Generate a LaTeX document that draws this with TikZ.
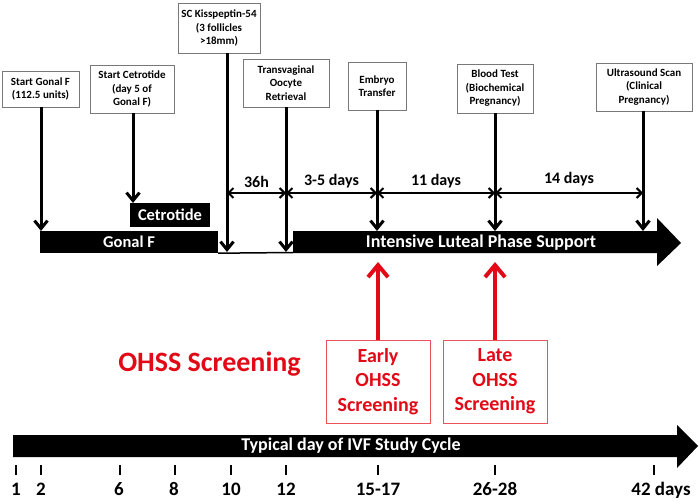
\documentclass[tikz,border=0pt]{standalone}
\usepackage{fontspec}
\setmainfont{Carlito}
\usetikzlibrary{arrows.meta,positioning}
\definecolor{ohssred}{RGB}{226,10,22}
\definecolor{boxgray}{RGB}{120,120,120}
\begin{document}
\begin{tikzpicture}[x=1pt,y=-1pt]

\tikzset{evtbox/.style={draw=boxgray, line width=0.8pt, fill=white, align=center, inner sep=2pt, font=\fontsize{11}{13.5}\selectfont\bfseries},
evtarrow/.style={line width=3pt, -{Straight Barb[length=8pt,width=13pt]}},
gapspan/.style={line width=2pt, {Straight Barb[length=5pt,width=10pt]}-{Straight Barb[length=5pt,width=10pt]}},
spanlab/.style={font=\fontsize{16}{18}\selectfont\bfseries, midway, above=1pt},
phasebar/.style={fill=black, text=white, inner sep=0pt, font=\fontsize{16.5}{18}\selectfont\bfseries},
bartext/.style={text=white, inner sep=0pt, font=\fontsize{18}{20}\selectfont\bfseries},
scrbox/.style={draw=ohssred!70, line width=0.8pt, fill=white, text=ohssred, align=center, inner sep=0pt, font=\fontsize{20}{24.5}\selectfont\bfseries},
scrarrow/.style={draw=ohssred, line width=4pt, -{Straight Barb[length=12pt,width=20pt]}},
daylab/.style={font=\fontsize{19}{21}\selectfont\bfseries, anchor=base}}

\useasboundingbox (0,0) rectangle (700,500);

% events
\node[evtbox, minimum width=77, minimum height=36] (gonalbox) at (40.5,89) {Start Gonal F\\(112.5 units)};
\node[evtbox, minimum width=84, minimum height=48] (cetbox) at (132,89) {Start Cetrotide\\(day 5 of\\Gonal F)};
\node[evtbox, minimum width=82, minimum height=50] (kissbox) at (219,28) {SC Kisspeptin-54\\(3 follicles\\>18mm)};
\node[evtbox, minimum width=86, minimum height=48] (oocbox) at (286,83) {Transvaginal\\Oocyte\\Retrieval};
\node[evtbox, minimum width=58, minimum height=48] (embbox) at (377,86) {Embryo\\Transfer};
\node[evtbox, minimum width=76, minimum height=49] (bloodbox) at (495,88.5) {Blood Test\\(Biochemical\\Pregnancy)};
\node[evtbox, minimum width=96, minimum height=48] (usbox) at (644,87) {Ultrasound Scan\\(Clinical\\Pregnancy)};

% treatment bars
\node[phasebar, minimum width=178, minimum height=22] (gonalbar) at (129,242) {Gonal F};
\node[phasebar, minimum width=80, minimum height=24] (cetbar) at (170,215) {Cetrotide};
\fill (293,231) -- (657,231) -- (657,218) -- (681,243) -- (657,266) -- (657,253) -- (293,253) -- cycle;
\node[bartext] (luteal) at (481,243) {Intensive Luteal Phase Support};
\coordinate (lutstart) at (293,252.5);
\draw[line width=1.5pt] (gonalbar.south east) -- (lutstart);

\coordinate (d2) at (41,231);
\coordinate (d6) at (133,203);
\coordinate (d10) at (227,252);
\coordinate (d12) at (286,252);
\coordinate (d15) at (377,231);
\coordinate (d26) at (495,231);
\coordinate (d42) at (643,231);
\coordinate (spanlvl) at (0,193);

\draw[evtarrow] (gonalbox.south -| d2) -- (d2);
\draw[evtarrow] (cetbox.south -| d6) -- (d6);
\draw[evtarrow] (kissbox.south -| d10) -- (d10);
\draw[evtarrow] (oocbox.south -| d12) -- (d12);
\draw[evtarrow] (embbox.south -| d15) -- (d15);
\draw[evtarrow] (bloodbox.south -| d26) -- (d26);
\draw[evtarrow] (usbox.south -| d42) -- (d42);

\draw[gapspan] (d10 |- spanlvl) -- (d12 |- spanlvl) node[spanlab] {36h};
\draw[gapspan] (d12 |- spanlvl) -- (d15 |- spanlvl) node[spanlab] {3-5 days};
\draw[gapspan] (d15 |- spanlvl) -- (d26 |- spanlvl) node[spanlab] {11 days};
\draw[gapspan] (d26 |- spanlvl) -- (d42 |- spanlvl) node[spanlab, above=3pt] {14 days};

% screening
\node[text=ohssred, font=\fontsize{28}{30}\selectfont\bfseries] (ohss) at (209.5,364) {OHSS Screening};
\node[scrbox, minimum width=104, minimum height=83] (earlybox) at (378,381.5) {Early\\OHSS\\Screening};
\node[scrbox, minimum width=104, minimum height=83] (latebox) at (495,381.5) {Late\\OHSS\\Screening};
\coordinate (scrtop) at (0,262);
\draw[scrarrow] (earlybox.north) -- (earlybox.north |- scrtop);
\draw[scrarrow] (latebox.north) -- (latebox.north |- scrtop);

% cycle axis
\fill (13,435) -- (677,435) -- (677,425) -- (698,446) -- (677,468) -- (677,457) -- (13,457) -- cycle;
\node[bartext] (cycle) at (351,446) {Typical day of IVF Study Cycle};
\foreach \x/\lx/\lab in {16/16/1, 41/41/2, 120/119/6, 175/174/8, 231/231/10, 286/286/12, 378/378/15-17, 495/495/26-28, 654/661/42 days}
{
  \coordinate (t\x) at (\x,465);
  \draw[line width=2.5pt] (t\x) -- ++(0,10);
  \node[daylab] (lab\x) at (\lx,495) {\lab};
}

\end{tikzpicture}
\end{document}
